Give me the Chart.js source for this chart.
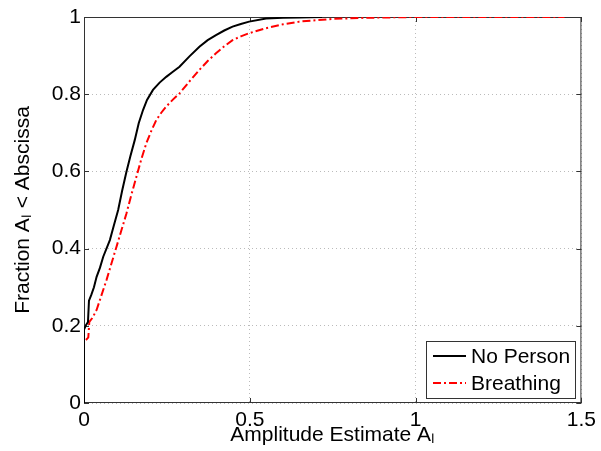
<!DOCTYPE html>
<html>
<head>
<meta charset="utf-8">
<script src="https://cdn.jsdelivr.net/npm/chart.js@4"></script>
<style>
  html, body { margin: 0; padding: 0; background: #fff; }
</style>
</head>
<body>
<canvas id="grafico" width="601" height="451"></canvas>
<script>
// datos (CDF de la amplitud estimada)
const noPersonX = [0, 0, 0.005, 0.012, 0.015, 0.022, 0.03, 0.038, 0.048, 0.058, 0.078, 0.09, 0.103, 0.115, 0.128, 0.14, 0.153, 0.165, 0.178, 0.19, 0.208, 0.228, 0.248, 0.268, 0.288, 0.318, 0.348, 0.373, 0.398, 0.423, 0.448, 0.473, 0.498, 0.549, 0.6, 0.65, 0.718]
const noPersonY = [0, 0.19, 0.2, 0.21, 0.265, 0.28, 0.3, 0.327, 0.35, 0.379, 0.422, 0.46, 0.5, 0.55, 0.599, 0.64, 0.681, 0.725, 0.759, 0.785, 0.811, 0.83, 0.845, 0.858, 0.871, 0.898, 0.923, 0.94, 0.953, 0.965, 0.975, 0.982, 0.988, 0.996, 0.998, 0.999, 1]

const breathingX = [0, 0, 0.008, 0.013, 0.016, 0.025, 0.038, 0.053, 0.068, 0.083, 0.098, 0.113, 0.128, 0.143, 0.158, 0.173, 0.188, 0.203, 0.218, 0.233, 0.248, 0.268, 0.288, 0.318, 0.348, 0.373, 0.398, 0.423, 0.448, 0.473, 0.498, 0.549, 0.6, 0.649, 0.749, 0.85, 0.999, 1.449]
const breathingY = [0, 0.16, 0.165, 0.17, 0.21, 0.22, 0.241, 0.28, 0.319, 0.362, 0.405, 0.448, 0.491, 0.54, 0.586, 0.632, 0.673, 0.705, 0.733, 0.752, 0.768, 0.786, 0.802, 0.833, 0.863, 0.886, 0.906, 0.924, 0.94, 0.95, 0.958, 0.971, 0.981, 0.988, 0.995, 0.998, 1, 1]

const xTicks = [0, 0.5, 1, 1.5]
const yTicks = [0, 0.2, 0.4, 0.6, 0.8, 1]

const fuente = '"Liberation Sans", Arial, sans-serif'

const aPuntos = (xs, ys) => xs.map((x, i) => ({ x, y: ys[i] }))

// caja tipo matlab con marcas hacia adentro
const cajaEjes = {
    id: 'cajaEjes',
    beforeDatasetsDraw(chart) {
        const { ctx, chartArea: { left, right, top, bottom }, scales: { x, y } } = chart
        ctx.save()
        ctx.strokeStyle = '#333'
        ctx.lineWidth = 1
        ctx.strokeRect(left + 0.5, top + 0.5, right - left - 1, bottom - top - 1)
        ctx.beginPath()
        xTicks.forEach(v => {
            const px = Math.round(x.getPixelForValue(v)) + 0.5
            ctx.moveTo(px, bottom); ctx.lineTo(px, bottom - 5)
            ctx.moveTo(px, top); ctx.lineTo(px, top + 5)
        })
        yTicks.forEach(v => {
            const py = Math.round(y.getPixelForValue(v)) + 0.5
            ctx.moveTo(left, py); ctx.lineTo(left + 5, py)
            ctx.moveTo(right, py); ctx.lineTo(right - 5, py)
        })
        ctx.stroke()
        ctx.restore()
    }
}

// leyenda dentro del area del grafico, abajo a la derecha
const leyenda = {
    id: 'leyenda',
    afterDraw(chart) {
        const { ctx, chartArea } = chart
        ctx.save()
        ctx.font = '21px ' + fuente
        const anchoTexto = Math.max(...chart.data.datasets.map(d => ctx.measureText(d.label).width))
        const ancho = Math.round(7 + 33 + 5 + anchoTexto + 5)
        const alto = 57
        const x0 = Math.round(chartArea.right - 6 - ancho)
        const y0 = Math.round(chartArea.bottom - 5 - alto)
        ctx.fillStyle = '#fff'
        ctx.fillRect(x0, y0, ancho, alto)
        ctx.strokeStyle = '#333'
        ctx.lineWidth = 1
        ctx.strokeRect(x0 + 0.5, y0 + 0.5, ancho, alto)
        chart.data.datasets.forEach((d, i) => {
            const yy = y0 + 15 + i * 27
            ctx.beginPath()
            ctx.setLineDash(d.borderDash || [])
            ctx.strokeStyle = d.borderColor
            ctx.lineWidth = d.borderWidth
            ctx.moveTo(x0 + 7, yy)
            ctx.lineTo(x0 + 40, yy)
            ctx.stroke()
            ctx.setLineDash([])
            ctx.fillStyle = '#000'
            ctx.textBaseline = 'middle'
            ctx.fillText(d.label, x0 + 45, yy + 1)
        })
        ctx.restore()
    }
}

// etiquetas como en matlab: 0, 0.5, 1 (sin ceros de relleno)
const formatoTick = v => String(Math.round(v * 100) / 100)

new Chart(document.getElementById('grafico'), {
    type: 'line',
    data: {
        datasets: [
            {
                label: 'No Person',
                data: aPuntos(noPersonX, noPersonY),
                borderColor: '#000',
                borderWidth: 2,
                pointRadius: 0,
                tension: 0
            },
            {
                label: 'Breathing',
                data: aPuntos(breathingX, breathingY),
                borderColor: '#ff0000',
                borderWidth: 2,
                borderDash: [8, 3, 2, 3],
                pointRadius: 0,
                tension: 0
            }
        ]
    },
    options: {
        responsive: false,
        animation: false,
        layout: { padding: { top: 17, right: 18, left: 0, bottom: 0 } },
        plugins: {
            legend: { display: false },
            tooltip: { enabled: false }
        },
        scales: {
            x: {
                type: 'linear',
                min: 0,
                max: 1.5,
                afterBuildTicks: scale => { scale.ticks = xTicks.map(v => ({ value: v })) },
                afterFit: scale => { scale.height = 48 },
                grid: { color: '#bbb', drawTicks: false },
                border: { display: false, dash: [1, 3] },
                ticks: { color: '#000', padding: 5, maxRotation: 0, callback: formatoTick, font: { family: fuente, size: 21 } },
                title: {
                    display: true,
                    text: 'Amplitude Estimate Aₗ',
                    color: '#000',
                    padding: { top: 0, bottom: 3 },
                    font: { family: fuente, size: 21 }
                }
            },
            y: {
                type: 'linear',
                min: 0,
                max: 1,
                afterBuildTicks: scale => { scale.ticks = yTicks.map(v => ({ value: v })) },
                afterFit: scale => { scale.width = 84 },
                grid: { color: '#bbb', drawTicks: false },
                border: { display: false, dash: [1, 3] },
                ticks: { color: '#000', padding: 3, callback: formatoTick, font: { family: fuente, size: 21 } },
                title: {
                    display: true,
                    text: 'Fraction Aₗ < Abscissa',
                    color: '#000',
                    padding: { top: 11, bottom: 0 },
                    font: { family: fuente, size: 21 }
                }
            }
        }
    },
    plugins: [cajaEjes, leyenda]
})
</script>
</body>
</html>
